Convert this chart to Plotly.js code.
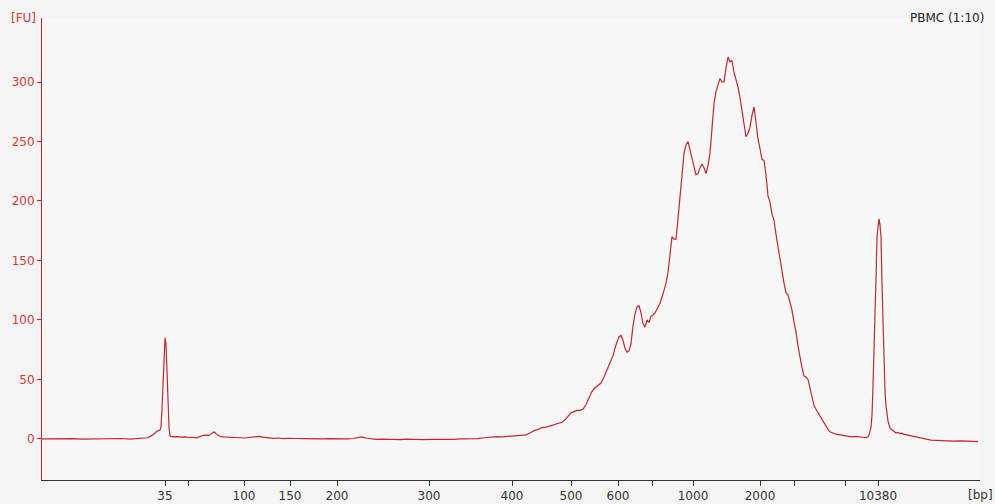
<!DOCTYPE html>
<html><head><meta charset="utf-8">
<script src="https://cdn.plot.ly/plotly-3.0.1.min.js"></script>
<style>html,body{margin:0;padding:0;background:#f4f4f4;}#chart{width:995px;height:504px;}</style>
</head><body><div id="chart"></div>
<script>
// migration position (arbitrary units) and fluorescence [FU]
const position = [42,50,58,66,74,82,90,98,106,114,122,130,138,144,148,152,155,158,160,161,162,163,164,165,166,167,168,169,170,173,177,181,185,189,193,197,201,205,209,212,214,216,219,223,227,231,235,240,245,250,255,259,263,268,273,278,283,288,293,298,303,308,313,318,323,328,333,338,343,348,353,358,362,366,370,376,382,388,394,400,406,412,418,424,430,436,442,448,454,460,466,472,478,484,490,496,502,508,514,520,526,530,534,538,542,546,550,554,558,562,565,568,571,574,577,580,583,586,589,592,595,598,601,604,607,610,613,616,619,621,623,625,627,629,631,633,635,637,639,641,643,645,647,649,651,653,655,657,660,663,666,668,670,672,674,676,678,680,682,684,686,688,690,692,694,696,698,700,702,704,706,708,710,712,714,716,718,720,722,724,726,728,730,732,734,736,738,740,742,744,746,748,750,752,754,756,758,760,762,764,766,768,770,772,774,776,778,780,782,784,786,788,790,792,794,796,798,800,802,804,806,808,810,812,814,816,818,820,822,824,826,828,830,833,836,840,844,848,852,856,860,864,867,869,871,872,873,874,875,876,877,878,879,880,881,882,883,884,885,886,887,888,890,892,894,896,898,900,902,904,907,910,914,917,920,924,927,931,936,942,948,954,960,966,972,978];
const fluorescence = [0,0.2,-0.2,0.1,0.3,-0.1,0,0.2,-0.3,0.1,0.4,-0.2,0.2,0.3,1,3,5,7,7.5,10,25,50,75,85,80,50,25,10,2.5,1.8,2,1.5,1.8,1.2,1.4,1.0,2.5,3.2,3,4.5,6,4.5,2.5,1.8,1.5,1.2,0.8,1.0,0.8,1.2,1.8,2.2,1.5,0.8,0.5,0.8,0.3,0.5,0.2,0.4,0.3,0.1,0.4,0.2,0.1,0.3,0.1,0,0.3,0.1,0.4,1.2,1.8,0.8,0.2,-0.3,-0.2,-0.4,-0.3,-0.5,-0.2,-0.4,-0.3,-0.5,-0.3,-0.4,-0.2,-0.1,-0.3,0,0.2,-0.1,0.3,1,1.5,2,1.8,2.2,2.5,2.8,3.5,5,7,8,9.5,10,11,12,13.5,14,16,19,22,23,24,24,25,29,35,40,43,45,47,52,58,64,70,79,86,87,83,76,73,74,80,95,105,111,112,106,97,94,100,98,103,104,106,109,114,122,131,140,155,170,168,168,185,205,225,240,247,250,243,235,228,222,223,228,231,228,223,230,240,262,282,292,298,303,300,300,312,321,317,318,308,302,296,287,275,262,254,257,262,272,279,266,252,244,235,234,222,204,199,189,184,172,162,149,140,131,123,121,115,108,98,90,78,68,60,53,52,50,42,33,28,25,22,19,17,14,11,8,6,5,4,3.4,3,2,1.8,2.2,1.5,1.2,1.3,3,10,20,45,70,95,135,170,182,185,180,170,130,90,60,40,28,22,15,9,7.5,6,5,5.5,4.5,4.8,3.8,3.4,2.8,2.2,1.5,0.8,0.2,-0.8,-1,-1.2,-1.5,-1.4,-1.8,-1.6,-1.9,-2,-2.2];
const tickPositions = [165,188,244,290,337,429,512,571,618,652,693,760,794,845,878];
const tickLabels = ['35','','100','150','200','300','400','500','600','','1000','2000','','','10380'];
const yTicks = [0,50,100,150,200,250,300];

const red = '#c0282d';
const trace = {x: position, y: fluorescence, type: 'scatter', mode: 'lines',
  line: {color: red, width: 1.2}, hoverinfo: 'skip'};

const layout = {
  width: 995, height: 504,
  margin: {l: 42, r: 15, t: 18, b: 24},
  paper_bgcolor: '#f4f4f4', plot_bgcolor: '#f7f7f7',
  showlegend: false,
  font: {family: 'DejaVu Sans', size: 12, color: '#333'},
  xaxis: {range: [42, 980], tickmode: 'array', tickvals: tickPositions, ticktext: tickLabels,
    showgrid: false, zeroline: false, showline: true, linecolor: '#333', linewidth: 1,
    ticks: 'outside', ticklen: 5, tickcolor: '#333', tickfont: {color: '#333', size: 12}},
  yaxis: {range: [-34.5, 353.8], tickmode: 'array', tickvals: yTicks,
    showgrid: false, zeroline: false, showline: true, linecolor: red, linewidth: 1,
    ticks: 'outside', ticklen: 4, tickcolor: red, tickfont: {color: '#d23c3c', size: 12}},
  annotations: [
    {text: '[FU]', xref: 'paper', yref: 'paper', x: 0, y: 1, xanchor: 'right', yanchor: 'middle',
     xshift: -4, showarrow: false, font: {color: '#d23c3c', size: 12}},
    {text: '[bp]', xref: 'paper', yref: 'paper', x: 1, y: 0, xanchor: 'center', yanchor: 'top',
     yshift: -6, showarrow: false, font: {color: '#333', size: 12}},
    {text: 'PBMC (1:10)', xref: 'paper', yref: 'paper', x: 1, y: 1, xanchor: 'right', yanchor: 'middle',
     xshift: 6, showarrow: false, font: {color: '#222', size: 12}}
  ]
};
Plotly.newPlot('chart', [trace], layout, {displayModeBar: false, staticPlot: true});
</script></body></html>
